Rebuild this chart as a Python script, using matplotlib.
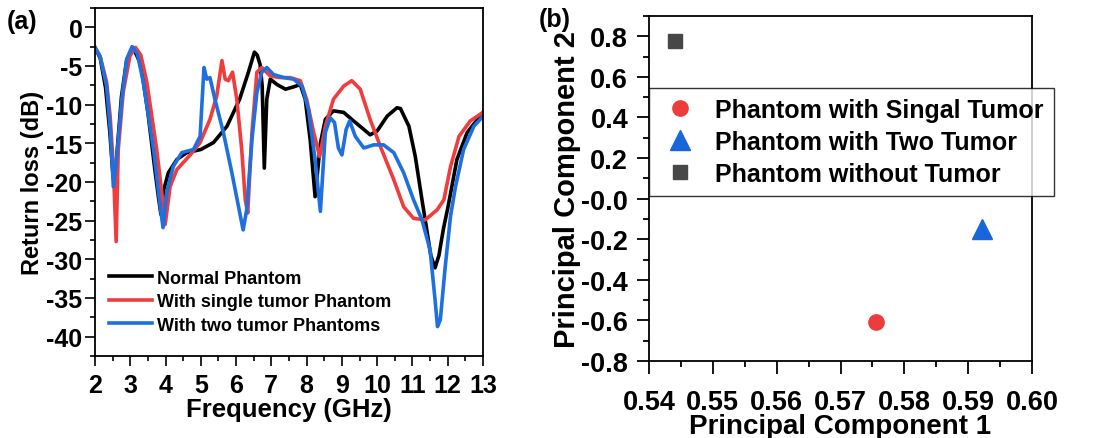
import numpy as np
import matplotlib
matplotlib.use("Agg")
import matplotlib.pyplot as plt
from matplotlib.ticker import MultipleLocator, FormatStrFormatter

plt.rcParams['font.family'] = ['Liberation Sans', 'DejaVu Sans']
plt.rcParams['font.weight'] = 'bold'
plt.rcParams['axes.unicode_minus'] = False

# (a) return loss curves
normal_f = [2.0, 2.15, 2.3, 2.42, 2.5, 2.55, 2.62, 2.75, 2.9, 3.08, 3.3, 3.5, 3.7, 3.8, 3.87,
            3.95, 4.08, 4.32, 4.6, 5.0, 5.36, 5.74, 6.1, 6.35, 6.52, 6.6, 6.68, 6.74, 6.8,
            6.87, 6.97, 7.16, 7.4, 7.63, 7.82, 7.96, 8.1, 8.24, 8.39, 8.53, 8.76, 9.05, 9.33,
            9.62, 9.8, 10.0, 10.28, 10.56, 10.66, 10.9, 11.08, 11.27, 11.4, 11.52, 11.64,
            11.75, 11.88, 12.0, 12.26, 12.55, 13.0]
normal_db = [-2.6, -4.0, -7.8, -13.5, -18.5, -20.3, -16.5, -9.0, -4.2, -2.6, -4.8, -11.0, -18.5,
             -22.0, -24.2, -21.0, -18.8, -17.1, -16.2, -15.8, -14.9, -12.8, -9.3, -5.8, -3.2,
             -3.6, -4.8, -7.6, -18.2, -9.3, -6.7, -7.4, -8.0, -7.7, -7.4, -9.3, -14.5, -21.9,
             -15.0, -11.9, -10.8, -11.0, -12.1, -13.2, -13.9, -13.4, -11.5, -10.4, -10.5,
             -12.8, -16.7, -22.3, -26.0, -29.5, -31.1, -29.5, -26.0, -23.4, -17.1, -13.6, -11.0]

single_f = [2.0, 2.15, 2.33, 2.43, 2.52, 2.6, 2.66, 2.8, 2.99, 3.15, 3.3, 3.47, 3.75, 3.94,
            3.99, 4.13, 4.32, 4.7, 4.98, 5.26, 5.45, 5.6, 5.69, 5.78, 5.9, 6.02, 6.16, 6.26,
            6.33, 6.45, 6.59, 6.73, 6.97, 7.25, 7.53, 7.82, 8.0, 8.2, 8.37, 8.53, 8.76, 9.05,
            9.28, 9.52, 9.8, 10.09, 10.47, 10.75, 11.03, 11.36, 11.7, 11.89, 12.08, 12.32,
            12.64, 13.0]
single_db = [-2.6, -3.8, -7.1, -11.5, -18.0, -27.7, -15.8, -8.4, -3.7, -2.6, -3.6, -7.1, -15.8,
             -23.2, -25.5, -20.6, -18.4, -16.5, -14.9, -11.9, -8.9, -4.3, -6.7, -6.9, -5.8,
             -9.3, -15.8, -22.3, -24.0, -13.6, -5.8, -5.2, -6.3, -6.5, -6.5, -6.9, -9.3, -13.6,
             -16.7, -12.8, -9.3, -7.6, -6.9, -8.0, -11.9, -15.4, -19.7, -23.2, -24.7, -24.9,
             -23.6, -22.3, -18.0, -14.1, -12.1, -11.0]

two_f = [2.0, 2.14, 2.33, 2.44, 2.52, 2.61, 2.76, 2.9, 3.05, 3.2, 3.37, 3.66, 3.85, 3.93,
         4.03, 4.22, 4.46, 4.79, 4.98, 5.09, 5.17, 5.26, 5.4, 5.64, 5.88, 6.07, 6.2, 6.3,
         6.45, 6.59, 6.73, 6.87, 7.06, 7.35, 7.63, 7.87, 8.05, 8.24, 8.39, 8.53, 8.67, 8.79,
         8.9, 9.0, 9.12, 9.22, 9.38, 9.62, 9.9, 10.18, 10.47, 10.75, 11.03, 11.27, 11.5,
         11.64, 11.71, 11.79, 11.93, 12.08, 12.22, 12.45, 12.74, 13.0]
two_db = [-2.6, -3.7, -7.6, -13.6, -20.6, -17.1, -9.3, -4.1, -2.5, -3.4, -7.1, -15.8, -23.2,
          -25.9, -21.4, -18.0, -16.2, -15.8, -14.1, -5.2, -6.7, -6.5, -9.3, -13.6, -18.8,
          -23.2, -26.2, -23.6, -14.5, -8.4, -5.8, -5.2, -6.1, -6.5, -6.7, -7.6, -10.6, -17.1,
          -23.8, -13.6, -11.7, -12.3, -15.6, -16.5, -13.2, -12.1, -14.1, -15.6, -15.2, -15.2,
          -16.2, -18.8, -22.3, -24.9, -28.8, -35.2, -38.7, -37.8, -30.9, -24.4, -20.6, -15.8,
          -12.8, -11.5]

curve_labels = ['Normal Phantom', 'With single tumor Phantom', 'With two tumor Phantoms']
curve_colors = ['black', '#F03C3C', '#1E6FE0']

# (b) PCA scores
pca_labels = ['Phantom with Singal Tumor', 'Phantom with Two Tumor', 'Phantom without Tumor']
pc1 = [0.5756, 0.5921, 0.5441]
pc2 = [-0.609, -0.149, 0.778]
pca_markers = ['o', '^', 's']
pca_sizes = [11, 14, 10.5]
pca_colors = ['#EE3B3B', '#1766DB', '#474747']

fig = plt.figure(figsize=(10.98, 4.39), dpi=100)

ax1 = fig.add_axes([0.0865, 0.1868, 0.3534, 0.7927])
for f, db, lab, c in zip([normal_f, single_f, two_f], [normal_db, single_db, two_db],
                         curve_labels, curve_colors):
    ax1.plot(f, db, color=c, lw=2.6, label=lab, solid_joinstyle='round')
ax1.set_xlim(2, 13)
ax1.set_ylim(-42.5, 2.5)
ax1.set_xticks(np.arange(2, 14, 1))
ax1.set_yticks(np.arange(-40, 1, 5))
ax1.xaxis.set_minor_locator(MultipleLocator(0.5))
ax1.yaxis.set_minor_locator(MultipleLocator(2.5))
ax1.tick_params(which='major', direction='out', length=7, width=1.2, labelsize=18, pad=5)
ax1.tick_params(axis='y', which='major', pad=2)
ax1.tick_params(which='minor', direction='out', length=3.5, width=1.2)
for s in ax1.spines.values():
    s.set_linewidth(1.3)
ax1.set_xlabel('Frequency (GHz)', fontsize=18.5, fontweight='bold', labelpad=0)
ax1.set_ylabel('Return loss (dB)', fontsize=17, fontweight='bold', labelpad=1.5)
ax1.legend(loc='upper left', bbox_to_anchor=(0.035, 0.248), frameon=False,
           handlelength=2.4, handletextpad=0.3, labelspacing=0.36, borderpad=0,
           borderaxespad=0, prop={'weight': 'bold', 'size': 13})

ax2 = fig.add_axes([0.5911, 0.1754, 0.3488, 0.7859])
for x, y, lab, m, ms, c in zip(pc1, pc2, pca_labels, pca_markers, pca_sizes, pca_colors):
    ax2.plot([x], [y], ls='none', marker=m, ms=ms, color=c, mec=c, label=lab)
ax2.set_xlim(0.54, 0.60)
ax2.set_ylim(-0.8, 0.9)
ax2.set_xticks(np.arange(0.54, 0.6001, 0.01))
ax2.set_yticks(np.arange(-0.8, 0.801, 0.2))
ax2.xaxis.set_major_formatter(FormatStrFormatter('%.2f'))
ax2.yaxis.set_major_formatter(FormatStrFormatter('%.1f'))
ax2.xaxis.set_minor_locator(MultipleLocator(0.005))
ax2.yaxis.set_minor_locator(MultipleLocator(0.1))
ax2.tick_params(which='major', direction='out', length=9, width=1.3, labelsize=19.5, pad=6)
ax2.tick_params(axis='x', which='major', pad=11)
ax2.tick_params(which='minor', direction='out', length=4.5, width=1.3)
for s in ax2.spines.values():
    s.set_linewidth(1.3)
ax2.set_xlabel('Principal Component 1', fontsize=20, fontweight='bold', labelpad=-1)
ax2.set_ylabel('Principal Component 2', fontsize=21, fontweight='bold', labelpad=0)
leg = ax2.legend(loc='upper left', bbox_to_anchor=(0.0, 0.791), frameon=True, fancybox=False,
                 handlelength=1.7, handletextpad=0.55, labelspacing=0.32, borderpad=0.4,
                 borderaxespad=0, prop={'weight': 'bold', 'size': 18})
leg.get_frame().set_edgecolor('black')
leg.get_frame().set_linewidth(1.0)

fig.text(0.006, 0.95, '(a)', fontsize=18, fontweight='bold', va='center')
fig.text(0.491, 0.955, '(b)', fontsize=18, fontweight='bold', va='center')

fig.savefig('out.png', dpi=100)
